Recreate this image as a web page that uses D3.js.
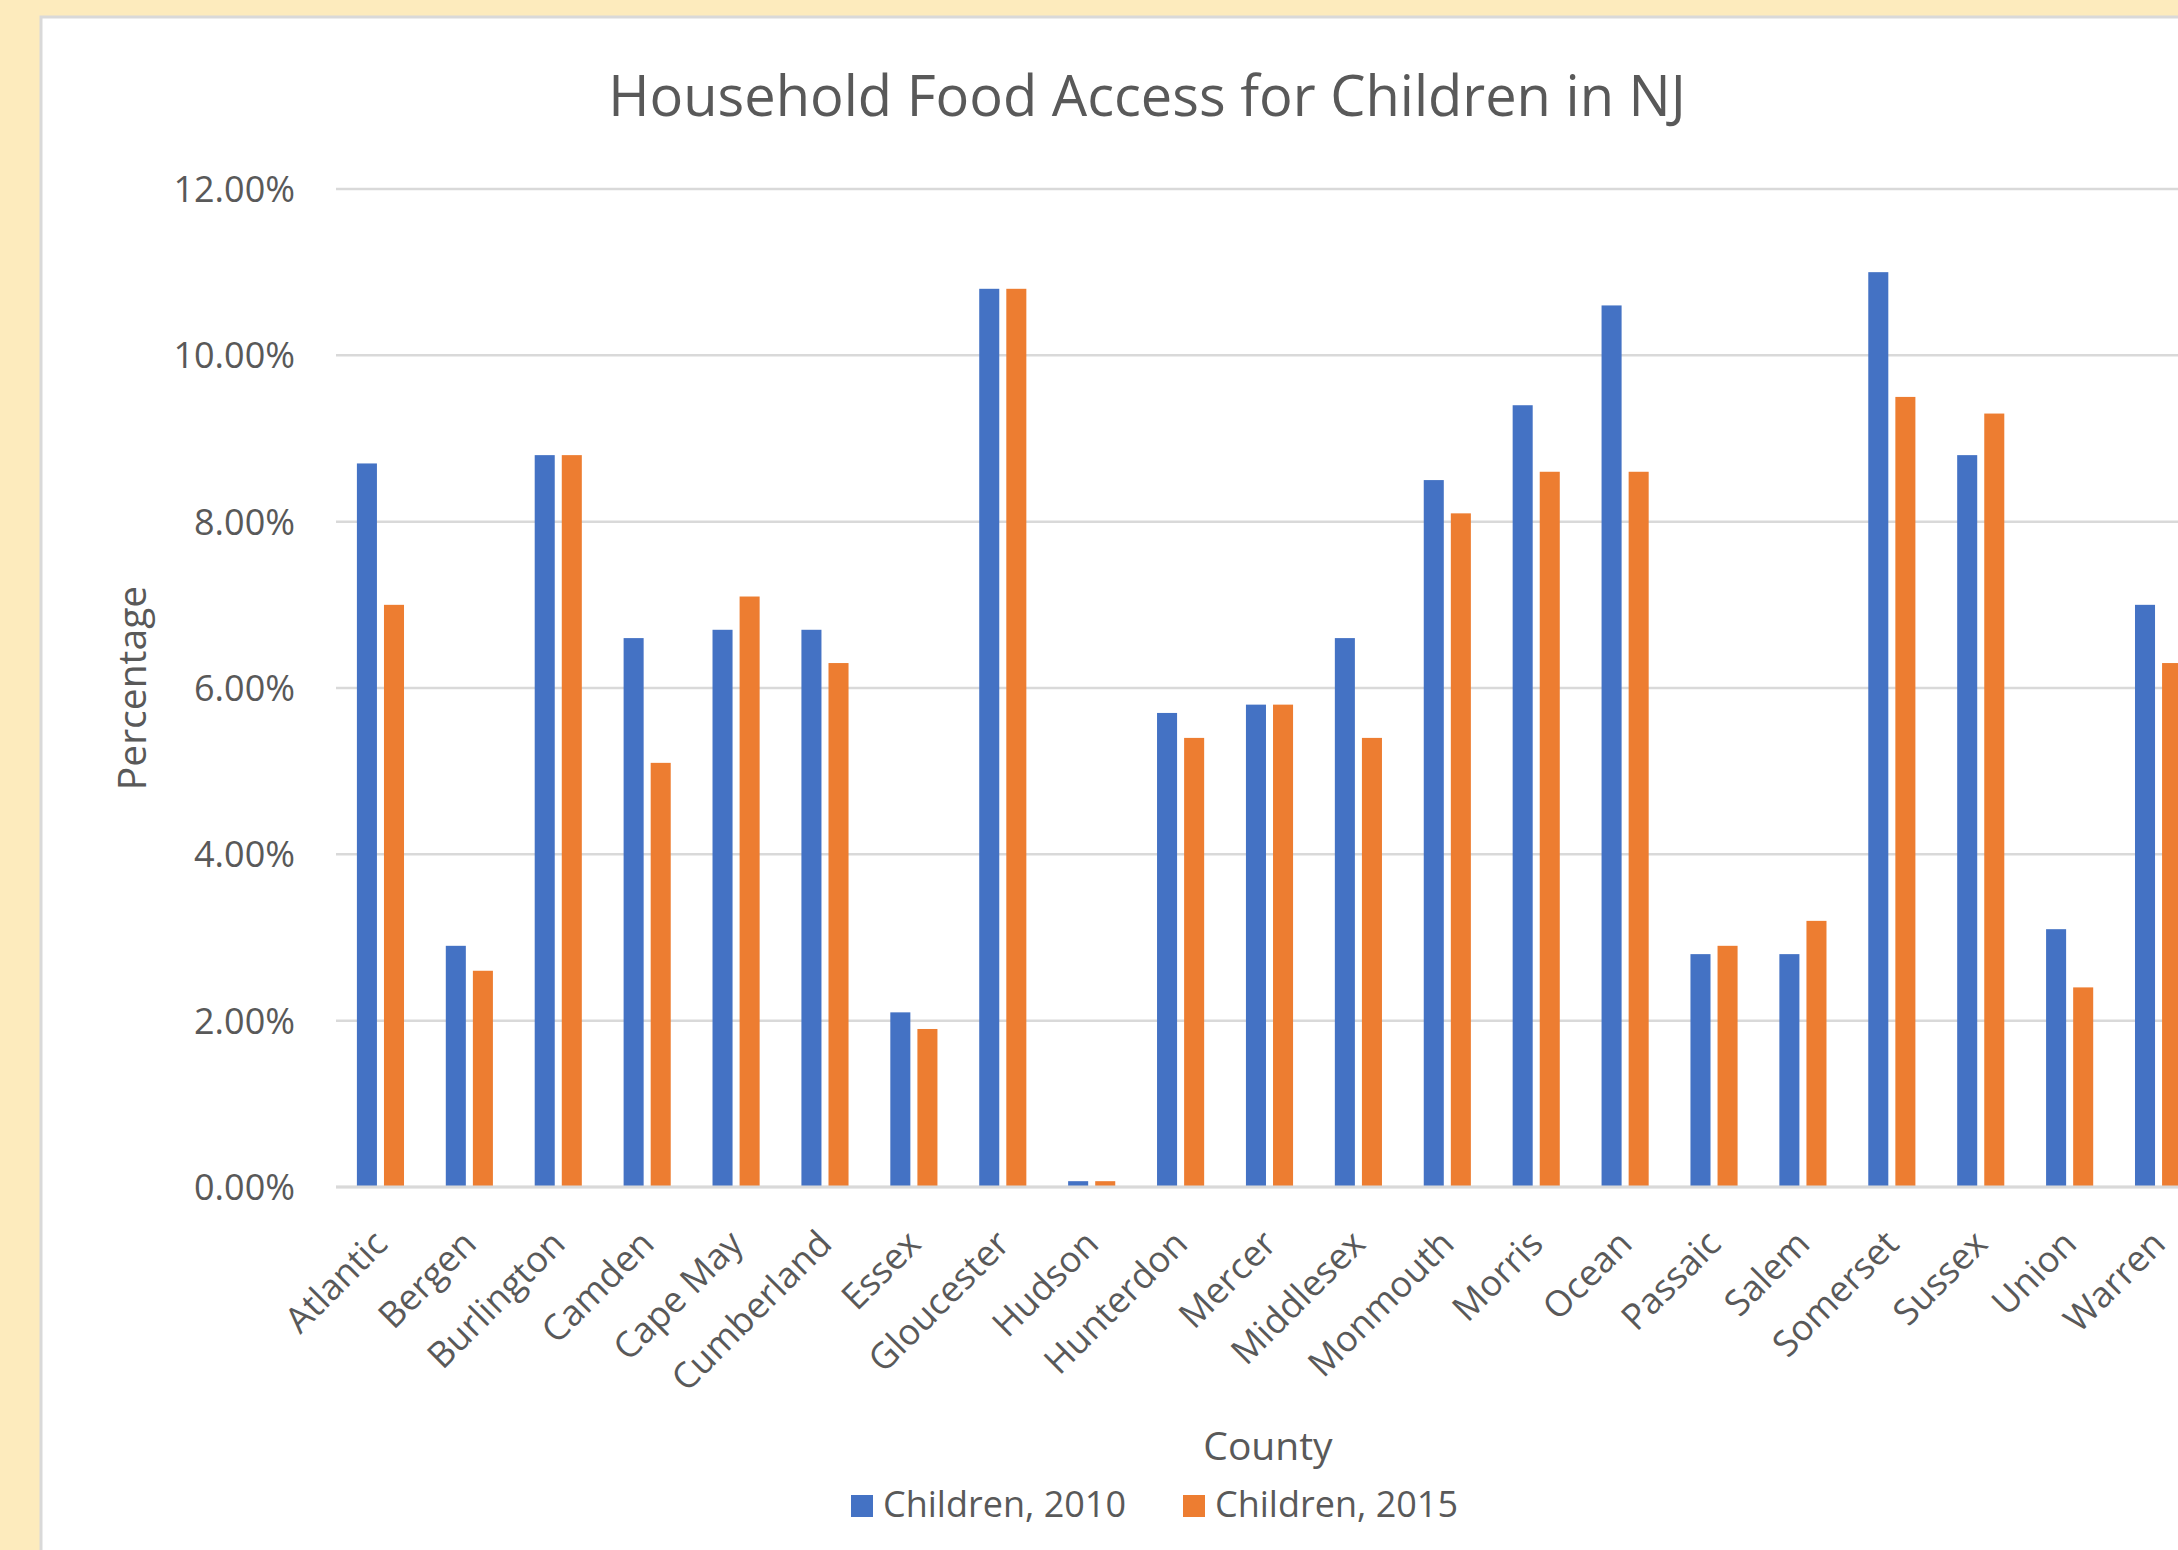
<!DOCTYPE html>
<html>
<head>
<meta charset="utf-8">
<script src="https://cdn.jsdelivr.net/npm/d3@7"></script>
<style>
    html, body { margin: 0; padding: 0; overflow: hidden; background: #fdebbd; }
    svg { display: block; }
    text { font-family: "Open Sans", "Noto Sans", sans-serif; fill: #595959; }
</style>
</head>
<body>
<svg></svg>
<script>
const counties = ["Atlantic", "Bergen", "Burlington", "Camden", "Cape May", "Cumberland", "Essex",
    "Gloucester", "Hudson", "Hunterdon", "Mercer", "Middlesex", "Monmouth", "Morris", "Ocean",
    "Passaic", "Salem", "Somerset", "Sussex", "Union", "Warren"];
const seriesNames = ["Children, 2010", "Children, 2015"];
const children2010 = [8.7, 2.9, 8.8, 6.6, 6.7, 6.7, 2.1, 10.8, 0.07, 5.7, 5.8, 6.6, 8.5, 9.4, 10.6, 2.8, 2.8, 11.0, 8.8, 3.1, 7.0];
const children2015 = [7.0, 2.6, 8.8, 5.1, 7.1, 6.3, 1.9, 10.8, 0.07, 5.4, 5.8, 5.4, 8.1, 8.6, 8.6, 2.9, 3.2, 9.5, 9.3, 2.4, 6.3];
const yTicks = [0, 2, 4, 6, 8, 10, 12];
const colors = ["#4472c4", "#ed7d31"];

const W = 2178, H = 1550;
const svg = d3.select("svg")
    .attr("width", W)
    .attr("height", H);

// chart panel (runs past the right and bottom edges, as in the screenshot)
const panel = { x: 41, y: 17, w: 2218, h: 1600 };
svg.append("rect")
    .attr("x", panel.x)
    .attr("y", panel.y)
    .attr("width", panel.w)
    .attr("height", panel.h)
    .attr("fill", "#fff")
    .attr("stroke", "#d9d9d9")
    .attr("stroke-width", 3);

const plot = { left: 336, right: 2203, top: 189, bottom: 1187 };

const rows = counties.map((c, i) => ({ county: c, values: [children2010[i], children2015[i]] }));

const x0 = d3.scaleBand()
    .domain(counties)
    .range([plot.left, plot.right])
    .paddingInner(0.47)
    .paddingOuter(0.235);

const x1 = d3.scaleBand()
    .domain([0, 1])
    .range([0, x0.bandwidth()])
    .paddingInner(0.26);

const y = d3.scaleLinear()
    .domain([0, 12])
    .range([plot.bottom, plot.top]);

// gridlines
svg.append("g")
    .selectAll("line")
    .data(yTicks)
    .enter()
    .append("line")
    .attr("x1", plot.left)
    .attr("x2", plot.right + 60)
    .attr("y1", d => y(d))
    .attr("y2", d => y(d))
    .attr("stroke", "#d9d9d9")
    .attr("stroke-width", 2.5);

// y axis labels
const yAxis = svg.append("g")
    .attr("transform", `translate(${plot.left - 41},0)`)
    .call(d3.axisLeft(y).tickValues(yTicks).tickSize(0).tickPadding(0)
        .tickFormat(d => d3.format(".2f")(d) + "%"));
yAxis.select(".domain").remove();
yAxis.selectAll("text")
    .attr("font-size", 36)
    .attr("font-family", null)
    .attr("fill", "#595959")
    .attr("dy", "0.35em");

// bars
const groups = svg.append("g")
    .selectAll("g")
    .data(rows)
    .enter()
    .append("g")
    .attr("transform", d => `translate(${x0(d.county)},0)`);

groups.selectAll("rect")
    .data(d => d.values.map((v, k) => ({ k, v })))
    .enter()
    .append("rect")
    .attr("x", d => x1(d.k))
    .attr("y", d => y(d.v))
    .attr("width", x1.bandwidth())
    .attr("height", d => y(0) - y(d.v))
    .attr("fill", d => colors[d.k]);

// x axis line
svg.append("line")
    .attr("x1", plot.left)
    .attr("x2", plot.right + 60)
    .attr("y1", y(0))
    .attr("y2", y(0))
    .attr("stroke", "#d9d9d9")
    .attr("stroke-width", 3);

// x labels, rotated
svg.append("g")
    .selectAll("text")
    .data(counties)
    .enter()
    .append("text")
    .attr("transform", d => `translate(${x0(d) + x0.bandwidth() / 2},${plot.bottom + 50}) rotate(-45)`)
    .attr("text-anchor", "end")
    .attr("dy", "0.35em")
    .attr("font-size", 36)
    .text(d => d);

// title
const cx = panel.x + 1106;
svg.append("text")
    .attr("x", cx)
    .attr("y", 116)
    .attr("text-anchor", "middle")
    .attr("font-size", 56)
    .text("Household Food Access for Children in NJ");

// axis titles
svg.append("text")
    .attr("transform", `translate(146,${(plot.top + plot.bottom) / 2}) rotate(-90)`)
    .attr("text-anchor", "middle")
    .attr("font-size", 39)
    .text("Percentage");

svg.append("text")
    .attr("x", 1268)
    .attr("y", 1460)
    .attr("text-anchor", "middle")
    .attr("font-size", 39)
    .text("County");

// legend
const legendX = [851, 1183];
const legend = svg.append("g")
    .selectAll("g")
    .data(seriesNames)
    .enter()
    .append("g")
    .attr("transform", (d, i) => `translate(${legendX[i]},1495)`);

legend.append("rect")
    .attr("width", 22)
    .attr("height", 22)
    .attr("fill", (d, i) => colors[i]);

legend.append("text")
    .attr("x", 32)
    .attr("y", 22)
    .attr("font-size", 36)
    .text(d => d);
</script>
</body>
</html>
